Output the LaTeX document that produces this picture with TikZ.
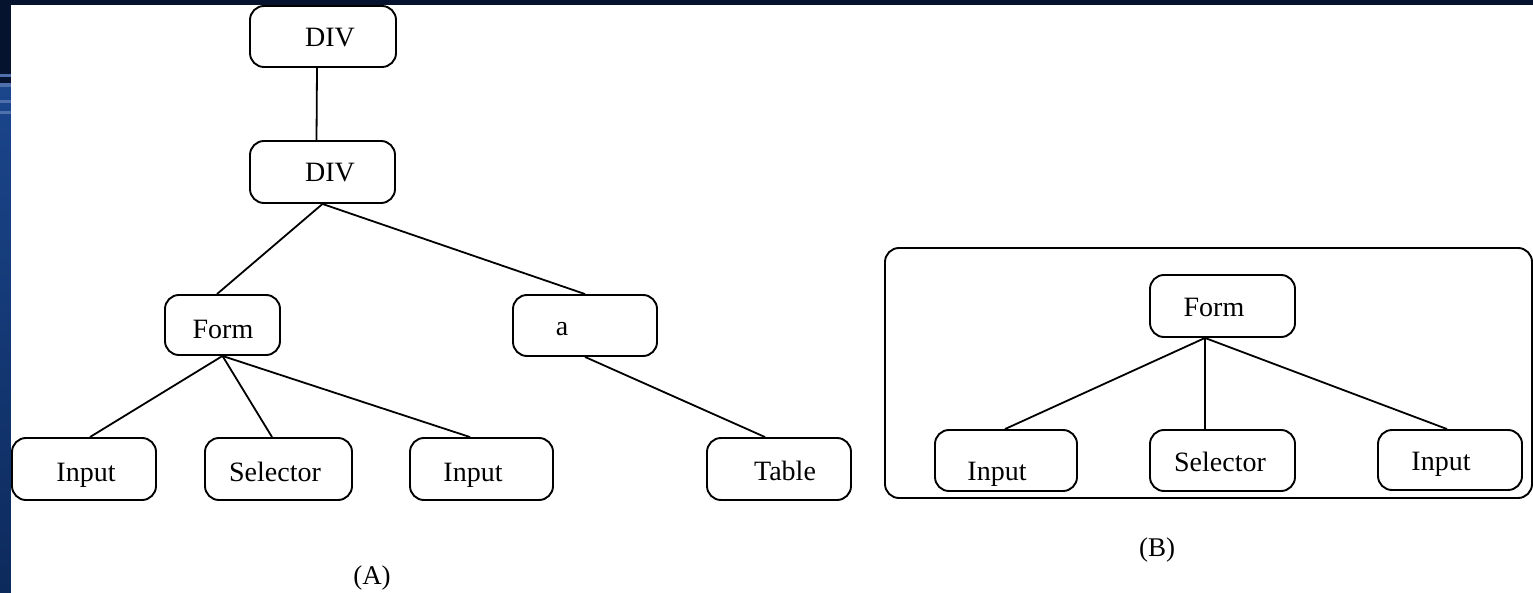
\documentclass[tikz,border=0pt]{standalone}
\usepackage{fontspec}
\setmainfont{Liberation Serif}
\definecolor{navy}{RGB}{5,19,46}
\definecolor{slideblue}{RGB}{27,70,140}
\definecolor{slidedeep}{RGB}{13,42,92}
\definecolor{stripe}{RGB}{80,112,172}
\begin{document}
\begin{tikzpicture}[x=1pt,y=-1pt,
  treebox/.style={draw=black, line width=1.9pt, rounded corners=14pt, inner sep=0pt},
  lbl/.style={anchor=base, inner sep=0pt, font=\fontsize{28}{28}\selectfont},
  captext/.style={anchor=base, inner sep=0pt, font=\fontsize{27}{27}\selectfont},
  link/.style={line width=1.8pt}]
\useasboundingbox (0,0) rectangle (1533,593);

% slide background: dark band on top, blue band on the left
\fill[navy] (0,0) rectangle (1533,593);
\shade[top color=slideblue, bottom color=slidedeep] (0,85) rectangle (11,593);
\fill[stripe] (0,74) rectangle (11,77);
\fill[stripe] (0,83) rectangle (11,87);
\fill[stripe] (0,100) rectangle (11,103);
\fill[stripe] (0,111) rectangle (11,114);
\fill[white] (11,5) rectangle (1533,593);

% ---------- tree (A) ----------
\node[treebox, minimum width=146pt, minimum height=61pt] (div1) at (323,36.5) {};
\node[treebox, minimum width=145pt, minimum height=62pt] (div2) at (322.5,172) {};
\node[treebox, minimum width=115pt, minimum height=60pt] (formA) at (222.5,325) {};
\node[treebox, minimum width=144pt, minimum height=61pt] (anchorA) at (585,325.5) {};
\node[treebox, minimum width=144pt, minimum height=62pt] (inA1) at (84,469) {};
\node[treebox, minimum width=147pt, minimum height=62pt] (selA) at (278.5,469) {};
\node[treebox, minimum width=143pt, minimum height=62pt] (inA2) at (481.5,469) {};
\node[treebox, minimum width=144pt, minimum height=62pt] (tableA) at (779,469) {};

\node[lbl] (t-div1) at (330,47) {DIV};
\node[lbl] (t-div2) at (330,182) {DIV};
\node[lbl] (t-formA) at (223,338) {Form};
\node[lbl] (t-anchorA) at (562,336) {a};
\node[lbl] (t-inA1) at (86,481) {Input};
\node[lbl] (t-selA) at (275,481) {Selector};
\node[lbl] (t-inA2) at (473,481) {Input};
\node[lbl] (t-tableA) at (785,480) {Table};

\draw[link] ([xshift=-6pt]div1.south) -- ([xshift=-6pt]div2.north);
\draw[link] (div2.south) -- ([xshift=-5.5pt]formA.north);
\draw[link] (div2.south) -- (anchorA.north);
\draw[link] (formA.south) -- ([xshift=6pt]inA1.north);
\draw[link] (formA.south) -- ([xshift=-6.5pt]selA.north);
\draw[link] (formA.south) -- ([xshift=-11.5pt]inA2.north);
\draw[link] (anchorA.south) -- ([xshift=-14pt]tableA.north);

\node[captext] (capA) at (372,584) {(A)};

% ---------- sub-tree (B) ----------
\node[treebox, minimum width=647pt, minimum height=250pt] (frameB) at (1208.5,373) {};
\node[treebox, minimum width=145pt, minimum height=62pt] (formB) at (1222.5,306) {};
\node[treebox, minimum width=142pt, minimum height=61pt] (inB1) at (1006,460.5) {};
\node[treebox, minimum width=145pt, minimum height=61pt] (selB) at (1222.5,460.5) {};
\node[treebox, minimum width=144pt, minimum height=60pt] (inB2) at (1450,460) {};

\node[lbl] (t-formB) at (1214,317) {Form};
\node[lbl] (t-inB1) at (997,480) {Input};
\node[lbl] (t-selB) at (1220,471) {Selector};
\node[lbl] (t-inB2) at (1441,470) {Input};

\draw[link] ([xshift=-17.5pt]formB.south) -- ([xshift=-1pt]inB1.north);
\draw[link] ([xshift=-17.5pt]formB.south) -- ([xshift=-17.5pt]selB.north);
\draw[link] ([xshift=-17.5pt]formB.south) -- ([xshift=-3pt]inB2.north);

\node[captext] (capB) at (1157,556) {(B)};
\end{tikzpicture}
\end{document}
